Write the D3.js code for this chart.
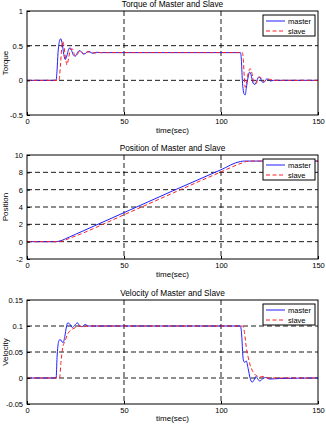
<!DOCTYPE html>
<html>
<head>
    <title>Master and Slave</title>
    <script src="https://cdnjs.cloudflare.com/ajax/libs/d3/7.8.5/d3.min.js"></script>
    <style>
        body { margin: 0; background: #fff; }
        text { font-family: "Liberation Sans", Arial, sans-serif; }
    </style>
</head>
<body>
    <div id="vis"></div>

    <script>
        // time / value pairs
        var torqueMaster = [[0,0],[15,0],[15.5,0.15],[16,0.4],[16.8,0.57],[17.4,0.6],[18,0.55],[19,0.37],[19.7,0.3],[20.5,0.35],[21.5,0.45],[22.2,0.47],[23,0.43],[24,0.36],[25,0.35],[26,0.4],[27,0.43],[28,0.41],[29,0.38],[30,0.385],[31,0.41],[32,0.415],[33,0.4],[34,0.39],[36,0.405],[38,0.4],[110,0.4],[110.5,0.3],[111,0.0],[111.5,-0.15],[112,-0.2],[112.5,-0.21],[113,-0.12],[114,0.05],[114.8,0.12],[115.5,0.08],[116.5,-0.04],[117.5,-0.06],[118.5,0.0],[119.5,0.05],[120.5,0.02],[121.5,-0.03],[122.5,-0.02],[123.5,0.02],[124.5,0.015],[125.5,-0.01],[127,0],[150,0]];
        var torqueSlave = [[0,0],[16.5,0],[17.2,0.2],[18,0.5],[18.5,0.56],[19,0.5],[20,0.3],[20.6,0.22],[21.5,0.33],[22.5,0.45],[23.5,0.45],[24.5,0.37],[25.5,0.35],[26.5,0.4],[27.5,0.43],[28.5,0.4],[29.5,0.38],[31,0.41],[33,0.41],[35,0.395],[38,0.4],[111,0.4],[111.5,0.3],[112,0.05],[112.5,-0.1],[113,-0.05],[114,0.1],[115,0.17],[116,0.1],[117,-0.03],[118,-0.05],[119,0.01],[120,0.05],[121,0.02],[122,-0.02],[123.5,0.01],[125,0.015],[127,0],[150,0]];

        var posMaster = [[0,0],[15,0],[16,0.03],[18,0.15],[20,0.35],[22,0.55],[25,0.85],[50,3.35],[100,8.3],[110,9.25],[112,9.3],[150,9.3]];
        var posSlave = [[0,0],[16.5,0],[18,0.05],[20,0.2],[22,0.4],[25,0.65],[50,3.1],[100,8.05],[111,9.1],[113,9.25],[115,9.3],[150,9.3]];

        var velMaster = [[0,0],[15,0],[15.5,0.04],[16.3,0.07],[17,0.074],[18.6,0.068],[19.5,0.08],[20.3,0.098],[21,0.106],[22,0.104],[23.4,0.097],[24.5,0.101],[26,0.106],[27.2,0.1],[28.5,0.099],[30,0.103],[31.5,0.1],[33,0.1],[110,0.1],[110.5,0.09],[111.5,0.035],[112.3,0.03],[113,0.033],[114,0.018],[115,0.0],[116,-0.008],[117,-0.004],[118,0.003],[119,-0.002],[120,-0.006],[121,-0.003],[123,0.001],[125,-0.002],[130,-0.001],[150,0]];
        var velSlave = [[0,0],[16.8,0],[17.5,0.03],[18.5,0.06],[19.5,0.07],[21,0.085],[23,0.093],[25,0.097],[27,0.1],[29,0.098],[31,0.1],[111,0.1],[112,0.09],[113,0.06],[114,0.04],[115,0.025],[116.5,0.012],[118,0.005],[120,0.002],[122,0.003],[124,0],[150,0]];

        var xTicks = [0, 50, 100, 150];
        var seriesNames = ["master", "slave"];

        var panels = [
            { title: "Torque of Master and Slave", ylabel: "Torque", top: 11, ydom: [-0.5, 1],
              yticks: [-0.5, 0, 0.5, 1], fmt: function(d) { return d; }, master: torqueMaster, slave: torqueSlave },
            { title: "Position of Master and Slave", ylabel: "Position", top: 155, ydom: [-2, 10],
              yticks: [-2, 0, 2, 4, 6, 8, 10], fmt: function(d) { return d; }, master: posMaster, slave: posSlave },
            { title: "Velocity of Master and Slave", ylabel: "Velocity", top: 300, ydom: [-0.05, 0.15],
              yticks: [-0.05, 0, 0.05, 0.1, 0.15], fmt: function(d) { return +d.toFixed(2); }, master: velMaster, slave: velSlave }
        ];

        var svg = d3.select("#vis").append("svg")
            .attr("width", 326)
            .attr("height", 424);

        var left = 27, right = 318, h = 104;
        var x = d3.scaleLinear().domain([0, 150]).range([left, right]);

        panels.forEach(function(p) {
            var y = d3.scaleLinear().domain(p.ydom).range([p.top + h, p.top]);
            var g = svg.append("g");

            g.append("rect")
                .attr("x", left).attr("y", p.top)
                .attr("width", right - left).attr("height", h)
                .style("fill", "#fff");

            // dashed grid
            g.selectAll(".hg").data(p.yticks.slice(1, -1)).enter().append("line")
                .attr("x1", left).attr("x2", right)
                .attr("y1", function(d) { return y(d); }).attr("y2", function(d) { return y(d); })
                .style("stroke", "#000").style("stroke-dasharray", "5,3").style("stroke-width", 0.9);
            g.selectAll(".vg").data(xTicks.slice(1, -1)).enter().append("line")
                .attr("y1", p.top).attr("y2", p.top + h)
                .attr("x1", function(d) { return x(d); }).attr("x2", function(d) { return x(d); })
                .style("stroke", "#000").style("stroke-dasharray", "5,3").style("stroke-width", 0.9);

            var line = d3.line()
                .x(function(d) { return x(d[0]); })
                .y(function(d) { return y(d[1]); })
                .curve(d3.curveMonotoneX);

            g.append("path").datum(p.master).attr("d", line)
                .style("fill", "none").style("stroke", "#1f1fff").style("stroke-width", 1);
            g.append("path").datum(p.slave).attr("d", line)
                .style("fill", "none").style("stroke", "#ff2020").style("stroke-width", 1)
                .style("stroke-dasharray", "4,2.5");

            // axes with inward ticks
            var xAx = d3.axisBottom(x).tickValues(xTicks).tickSize(-3).tickPadding(4);
            var yAx = d3.axisLeft(y).tickValues(p.yticks).tickSize(-3).tickPadding(4).tickFormat(p.fmt);
            var ga = g.append("g").attr("transform", "translate(0," + (p.top + h) + ")").call(xAx);
            var gy = g.append("g").attr("transform", "translate(" + left + ",0)").call(yAx);
            [ga, gy].forEach(function(a) {
                a.select(".domain").remove();
                a.selectAll("text").style("font-size", "7.5px").style("fill", "#000");
                a.selectAll("line").style("stroke", "#000");
            });

            g.append("rect")
                .attr("x", left).attr("y", p.top)
                .attr("width", right - left).attr("height", h)
                .style("fill", "none").style("stroke", "#000").style("stroke-width", 1);

            g.append("text")
                .attr("x", (left + right) / 2).attr("y", p.top - 4)
                .attr("text-anchor", "middle").style("font-size", "8.3px")
                .text(p.title);
            g.append("text")
                .attr("x", (left + right) / 2).attr("y", Math.min(p.top + h + 18, 421))
                .attr("text-anchor", "middle").style("font-size", "8px")
                .text("time(sec)");
            g.append("text")
                .attr("transform", "translate(8," + (p.top + h / 2) + ") rotate(-90)")
                .attr("text-anchor", "middle").style("font-size", "8px")
                .text(p.ylabel);

            // legend
            var lg = g.append("g").attr("transform", "translate(263," + (p.top + 4) + ")");
            lg.append("rect").attr("width", 52).attr("height", 21)
                .style("fill", "#fff").style("stroke", "#000").style("stroke-width", 1);
            seriesNames.forEach(function(name, i) {
                var yy = 6 + i * 10;
                lg.append("line").attr("x1", 3).attr("x2", 22).attr("y1", yy).attr("y2", yy)
                    .style("stroke", i ? "#ff2020" : "#1f1fff").style("stroke-width", 1)
                    .style("stroke-dasharray", i ? "4,2.5" : null);
                lg.append("text").attr("x", 25).attr("y", yy + 2.5)
                    .style("font-size", "7.5px").text(name);
            });
        });
    </script>
</body>
</html>
